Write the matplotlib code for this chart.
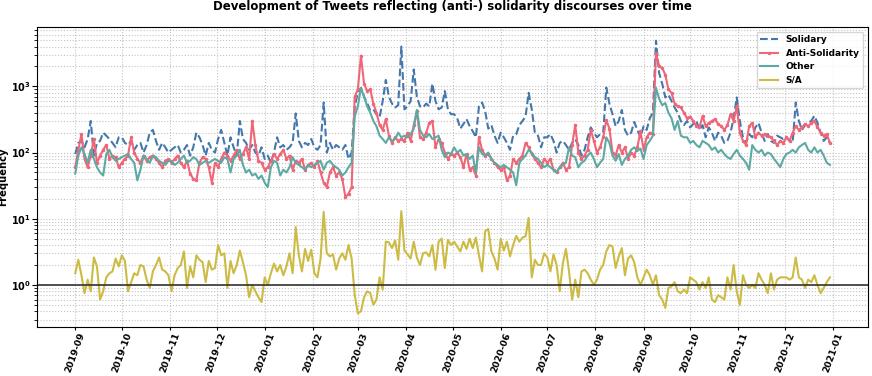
import pandas as pd
import matplotlib
matplotlib.use("Agg")
import matplotlib.pyplot as plt
import matplotlib.dates as mdates

# values, one point every 2 days from 2019-09-01
solidary = [
    95, 140, 150, 120, 160, 300, 90, 140, 150, 200, 180, 160, 140, 120, 170,  # sep 19
    170, 140, 130, 150, 110, 130, 140, 100, 130, 200, 220, 150, 110, 140, 120, 100,
    110, 120, 130, 100, 110, 130, 90, 120, 200, 170, 130, 90, 140, 110, 100,
    160, 220, 140, 90, 170, 120, 90, 300, 160, 140, 110, 130, 100, 90, 120,
    80, 90, 70, 100, 170, 120, 130, 110, 120, 140, 390, 150, 120, 140, 130, 160,  # jan 20
    120, 110, 130, 570, 100, 140, 110, 130, 120, 110, 130, 80, 100, 500,
    800, 950, 700, 560, 430, 450, 380, 340, 600, 1250, 700, 550, 480, 520, 4000, 450,
    500, 600, 1800, 700, 500, 480, 550, 500, 1100, 600, 450, 480, 850, 450, 380,
    380, 330, 230, 270, 320, 250, 210, 170, 500, 570, 420, 230, 260, 180, 140,
    200, 170, 140, 110, 180, 190, 260, 300, 350, 800, 450, 200, 180, 120, 170,
    170, 190, 150, 100, 140, 150, 130, 110, 140, 160, 130, 90, 110, 170, 240, 200,
    170, 190, 200, 960, 550, 380, 250, 300, 440, 220, 180, 200, 290, 220, 170,
    250, 220, 330, 400, 4900, 1600, 1100, 680, 750, 600, 480, 400, 300, 260, 300,  # sep 20
    240, 270, 300, 220, 260, 170, 240, 200, 150, 200, 180, 140, 150, 200, 330, 680,
    300, 170, 140, 190, 170, 240, 280, 200, 150, 190, 150, 140, 180, 170, 160,
    170, 150, 140, 570, 300, 220, 260, 280, 300, 360, 280, 200, 150, 170, 140,
]

anti_solidarity = [
    60, 110, 190, 80, 60, 90, 160, 70, 90, 110, 130, 80, 90, 85, 60,
    70, 80, 90, 170, 100, 80, 70, 90, 75, 85, 90, 80, 70, 60, 75, 80,
    70, 80, 90, 70, 60, 75, 48, 40, 38, 70, 85, 80, 60, 35, 70,
    60, 80, 100, 90, 75, 90, 110, 80, 95, 120, 80, 300, 130, 75, 70,
    55, 60, 75, 95, 80, 95, 110, 80, 90, 55, 75, 70, 80, 55, 65, 70,
    60, 75, 50, 35, 30, 50, 60, 45, 50, 40, 21, 24, 30, 700,
    900, 2900, 1100, 850, 900, 550, 400, 260, 220, 320, 180, 140, 170, 150, 160, 150,
    200, 150, 260, 420, 170, 160, 200, 280, 300, 120, 160, 140, 100, 80, 95,
    90, 100, 85, 60, 95, 55, 60, 45, 170, 110, 90, 95, 80, 70, 60,
    55, 60, 38, 45, 80, 70, 80, 90, 140, 120, 95, 80, 70, 60, 80,
    70, 80, 55, 50, 60, 70, 55, 60, 130, 260, 100, 80, 90, 110, 220, 150,
    100, 120, 170, 310, 230, 100, 90, 130, 100, 120, 80, 100, 90, 120, 210,
    110, 170, 200, 190, 3200, 2000, 1900, 1500, 900, 800, 550, 500, 480, 400, 330,
    350, 300, 250, 240, 360, 250, 280, 300, 320, 270, 250, 220, 260, 380, 300, 500,
    200, 150, 130, 250, 280, 170, 200, 180, 190, 180, 170, 150, 130, 150, 140,
    170, 150, 200, 250, 220, 240, 270, 250, 280, 300, 240, 200, 180, 190, 140,
]

other = [
    48, 90, 120, 95, 70, 110, 80, 60, 50, 45, 95, 110, 85, 75, 80,
    85, 90, 95, 80, 70, 38, 55, 90, 80, 70, 90, 85, 75, 70, 65, 75,
    75, 65, 70, 80, 90, 70, 75, 85, 80, 65, 70, 75, 70, 75, 80,
    75, 70, 85, 80, 50, 80, 90, 110, 65, 50, 55, 45, 48, 40, 45,
    35, 30, 60, 75, 70, 45, 55, 50, 60, 85, 70, 65, 60, 55, 65, 60,
    65, 70, 75, 55, 70, 75, 65, 60, 55, 45, 50, 60, 70, 350,
    500, 950, 700, 500, 400, 300, 250, 180, 160, 140, 170, 150, 160, 200, 170, 180,
    170, 190, 230, 440, 220, 180, 170, 190, 160, 170, 180, 110, 85, 100, 95,
    120, 100, 110, 90, 95, 80, 90, 50, 120, 95, 90, 100, 80, 70, 65,
    60, 65, 60, 55, 50, 32, 70, 80, 90, 110, 100, 85, 80, 70, 60,
    65, 60, 55, 50, 60, 65, 70, 120, 90, 85, 60, 70, 75, 90, 100, 80,
    60, 70, 80, 170, 140, 90, 75, 95, 65, 80, 90, 110, 120, 105, 115,
    80, 130, 150, 180, 950, 650, 520, 560, 400, 330, 220, 300, 180, 170, 170,
    140, 150, 130, 120, 150, 140, 130, 110, 120, 100, 110, 95, 85, 80, 95, 110,
    90, 80, 70, 55, 130, 110, 100, 110, 90, 100, 95, 80, 70, 60, 80,
    95, 100, 110, 100, 120, 130, 140, 110, 100, 120, 100, 110, 90, 70, 65,
]

s_a_ratio = [
    1.5, 2.4, 1.4, 0.75, 1.2, 0.8, 2.6, 1.9, 0.6, 0.8, 1.3, 1.5, 1.6, 2.5, 1.9,
    2.8, 2.3, 0.8, 1.1, 1.5, 1.4, 2.0, 1.9, 1.2, 0.9, 1.6, 2.0, 2.6, 1.7, 1.6, 1.4,
    0.8, 1.4, 1.8, 2.0, 3.2, 0.9, 1.9, 1.3, 2.8, 2.4, 2.2, 1.1, 2.3, 1.7, 1.8,
    4.0, 2.8, 3.0, 0.9, 2.3, 1.5, 2.0, 3.3, 2.2, 1.4, 0.65, 1.0, 0.8, 0.65, 0.55,
    1.3, 1.0, 1.5, 2.1, 1.6, 2.0, 1.4, 1.9, 3.0, 1.5, 7.5, 2.8, 1.6, 3.5, 2.3, 3.4,
    1.5, 1.3, 2.5, 12.7, 3.0, 2.7, 2.9, 1.7, 2.5, 3.0, 2.4, 4.0, 2.5, 0.7,
    0.37, 0.4, 0.65, 0.8, 0.75, 0.5, 0.6, 1.3, 0.85, 4.5, 4.4, 3.6, 4.7, 2.4, 13, 3.3,
    2.9, 2.5, 4.5, 2.6, 2.0, 3.0, 3.1, 2.7, 4.0, 1.7, 4.5, 5.0, 1.8, 4.8, 4.0,
    4.5, 3.8, 3.2, 4.5, 3.5, 5.0, 3.6, 5.2, 2.8, 1.6, 6.5, 7.0, 3.2, 2.5, 1.7,
    5.0, 3.3, 4.5, 2.7, 4.0, 5.5, 4.5, 5.2, 5.4, 10.3, 1.3, 2.4, 2.0, 2.0, 3.0,
    2.6, 1.6, 2.9, 2.0, 0.8, 2.1, 3.5, 1.6, 0.6, 1.2, 0.65, 1.6, 1.7, 1.5, 1.2, 1.0,
    1.2, 1.7, 2.0, 3.2, 4.0, 3.8, 1.8, 2.7, 3.6, 1.4, 2.5, 2.8, 2.2, 1.3, 1.0,
    1.3, 1.7, 1.4, 1.0, 1.4, 0.7, 0.6, 0.45, 0.9, 0.95, 1.1, 0.8, 0.75, 0.85, 0.75,
    1.3, 1.2, 1.1, 0.85, 1.1, 0.9, 1.3, 0.6, 0.55, 0.7, 0.65, 0.6, 1.3, 0.85, 2.0, 0.8,
    0.5, 1.4, 1.0, 0.9, 1.0, 0.9, 1.5, 1.2, 1.0, 0.75, 1.5, 0.85, 1.2, 1.3, 1.3,
    1.3, 1.2, 1.3, 2.6, 1.3, 1.2, 0.9, 1.2, 1.1, 1.4, 1.0, 0.75, 0.9, 1.1, 1.3,
]


def dates_for(values):
    return pd.date_range("2019-09-01", periods=len(values), freq="2D")


plt.rcParams["font.family"] = ["DejaVu Sans"]
plt.rcParams["font.weight"] = "bold"

fig, ax = plt.subplots(figsize=(8.72, 3.76), dpi=100)
fig.subplots_adjust(left=0.043, right=0.995, top=0.928, bottom=0.13)

ax.plot(dates_for(solidary), solidary, "--", color="#4477AA", lw=1.5, label="Solidary")
ax.plot(dates_for(anti_solidarity), anti_solidarity, "-", marker=".", ms=3,
        color="#EE6677", lw=1.5, label="Anti-Solidarity")
ax.plot(dates_for(other), other, "-", color="#5DA9A4", lw=1.5, label="Other")
ax.plot(dates_for(s_a_ratio), s_a_ratio, "-", color="#CCBB44", lw=1.5, label="S/A")
ax.axhline(1, color="#333333", lw=1.2)

ax.set_yscale("log")
ax.grid(True, which="both", linestyle=":", color="#c4c4c4", lw=0.8)

ax.xaxis.set_major_locator(mdates.MonthLocator())
ax.xaxis.set_major_formatter(mdates.DateFormatter("%Y-%m"))
ax.tick_params(axis="x", length=2, pad=1)
ax.tick_params(axis="y", pad=1.5)
plt.setp(ax.get_xticklabels(), rotation=70, fontsize=6.6, fontweight="bold")
plt.setp(ax.get_yticklabels(), fontsize=7, fontweight="bold")

ax.set_ylabel("Frequency", fontsize=7.2, fontweight="bold")
ax.yaxis.set_label_coords(-0.035, 0.5)
ax.set_title("Development of Tweets reflecting (anti-) solidarity discourses over time",
             fontsize=8.5, fontweight="bold", pad=12)

leg = ax.legend(loc="upper right", prop={"size": 6.5, "weight": "bold"})

plt.savefig("out.png", dpi=100)
